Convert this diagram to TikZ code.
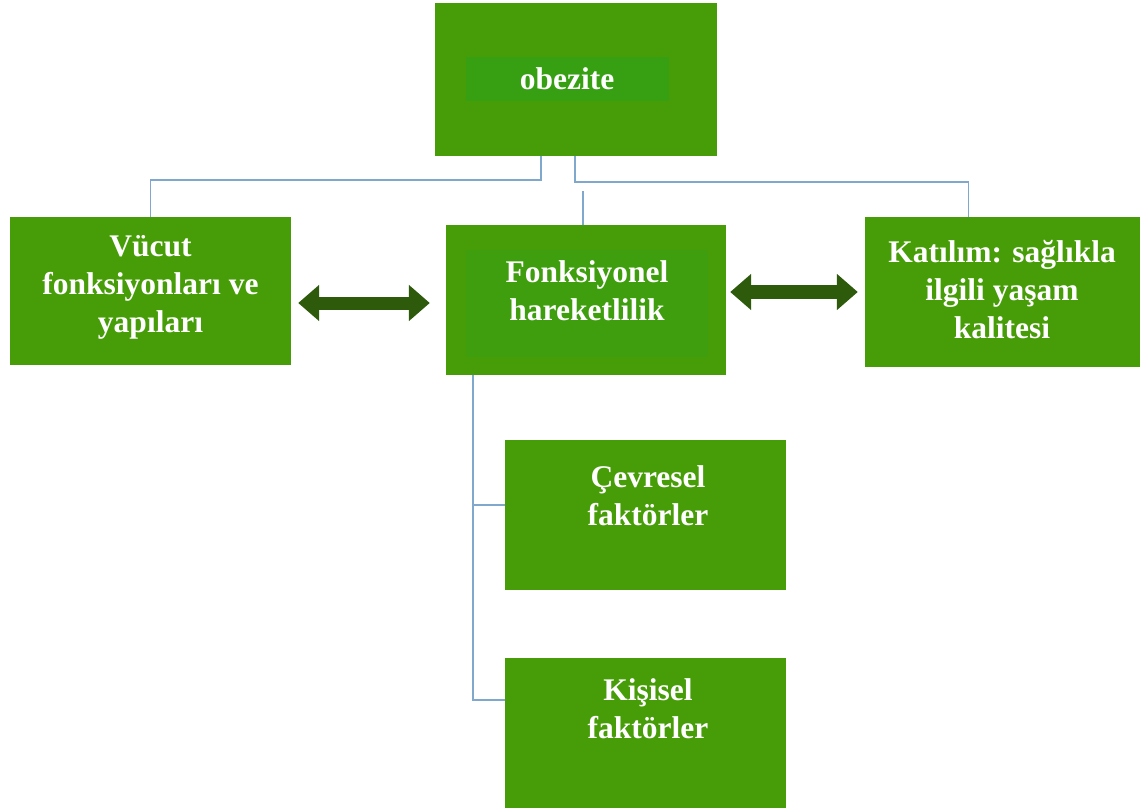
\documentclass[tikz,border=0pt]{standalone}
\usepackage{fontspec}
\setmainfont{Liberation Serif}
\usetikzlibrary{arrows.meta}
\definecolor{boxgreen}{HTML}{479D08}
\definecolor{innergreen}{HTML}{37A012}
\definecolor{subtlegreen}{HTML}{3F9E0E}
\definecolor{arrowgreen}{HTML}{2E5A0C}
\definecolor{linkblue}{HTML}{7FA8CC}
\begin{document}
\begin{tikzpicture}[x=1pt,y=-1pt,
  box/.style={draw=none, fill=boxgreen, inner sep=0pt},
  innerbox/.style={draw=none, fill=innergreen, inner sep=0pt},
  subtlebox/.style={draw=none, fill=subtlegreen, inner sep=0pt},
  lbl/.style={text=white, font=\fontsize{31.5}{38}\selectfont\bfseries, align=center, inner sep=0pt},
  link/.style={draw=linkblue, line width=1.5pt},
  biarrow/.style={draw=arrowgreen, line width=13pt, {Triangle[length=21pt,width=35pt]}-{Triangle[length=21pt,width=35pt]}}]
\useasboundingbox (0,0) rectangle (1140,810);
% boxes
\node[box, minimum width=282pt, minimum height=153pt] (top) at (576,79.5) {};
\node[innerbox, minimum width=203pt, minimum height=44pt] (topin) at (567.5,79) {};
\node[lbl] (toptext) at (567,79) {obezite};

\node[box, minimum width=281pt, minimum height=148pt] (left) at (150.5,291) {};
\node[lbl] (lefttext) at (150.5,287) {Vücut\\fonksiyonları ve\\yapıları};

\node[box, minimum width=280pt, minimum height=150pt] (center) at (586,300) {};
\node[subtlebox, minimum width=242pt, minimum height=107pt] (centerin) at (587,303.5) {};
\node[lbl] (centertext) at (587,291) {Fonksiyonel\\hareketlilik};

\node[box, minimum width=275pt, minimum height=150pt] (right) at (1002.5,292) {};
\node[lbl] (righttext) at (1002,290) {Katılım: sağlıkla\\ilgili yaşam\\kalitesi};

\node[box, minimum width=281pt, minimum height=150pt] (env) at (645.5,515) {};
\node[lbl] (envtext) at (648,496) {Çevresel\\faktörler};

\node[box, minimum width=281pt, minimum height=150pt] (pers) at (645.5,733) {};
\node[lbl] (perstext) at (648,709) {Kişisel\\faktörler};

% connectors
\draw[link] ([xshift=-35pt]top.south) -- ++(0,24) -| (left.north);
\draw[link] ([xshift=-1pt]top.south) -- ++(0,26) -| ([xshift=-34pt]right.north);
\draw[link] ([xshift=-3pt]center.north) -- ++(0,-34);
\draw[link] ([xshift=-113pt]center.south) |- ([yshift=10pt]env.west);
\draw[link] ([xshift=-113pt]center.south) |- ([yshift=33pt]pers.west);

% arrows
\draw[biarrow] ([xshift=7pt,yshift=-12pt]left.east) -- ([xshift=-16pt,yshift=-3pt]center.west);
\draw[biarrow] ([xshift=4pt,yshift=8pt]center.east) -- ([xshift=-7pt]right.west);
\end{tikzpicture}
\end{document}
